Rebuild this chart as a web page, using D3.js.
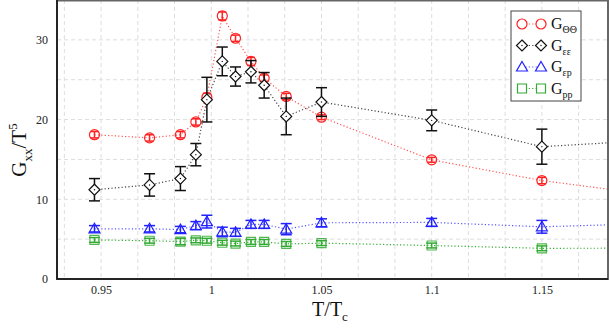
<!DOCTYPE html>
<html>
<head>
<meta charset="utf-8">
<script src="https://cdn.jsdelivr.net/npm/d3@7"></script>
<style>
  body { margin: 0; background: #fff; }
  svg text { font-family: "Liberation Serif", "DejaVu Serif", serif !important; }
</style>
</head>
<body>
<svg id="chart" width="610" height="323"></svg>
<script>
// 温度 T/Tc
const temps = [0.947, 0.972, 0.986, 0.993, 0.998, 1.005, 1.011, 1.018, 1.024, 1.034, 1.050, 1.100, 1.150, 1.200];

// 各相関関数の値と誤差
const gThetaTheta = [18.1, 17.7, 18.1, 19.7, 22.8, 33.0, 30.2, 27.3, 25.2, 22.9, 20.3, 14.95, 12.35, 10.55];
const gThetaThetaErr = [0.4, 0.4, 0.4, 0.4, 0.5, 0.5, 0.4, 0.5, 0.4, 0.4, 0.3, 0.3, 0.4, 0.4];
const gEpsEps = [11.2, 11.8, 12.6, 15.6, 22.5, 27.3, 25.4, 26.0, 24.3, 20.4, 22.2, 19.9, 16.6, 17.4];
const gEpsEpsErr = [1.4, 1.4, 1.5, 1.4, 2.8, 1.8, 1.2, 1.4, 1.6, 2.3, 1.8, 1.3, 2.2, 2.0];
const gEpsP = [6.3, 6.3, 6.2, 6.7, 7.2, 5.9, 5.85, 6.85, 6.85, 6.25, 7.05, 7.1, 6.55, 6.95];
const gEpsPErr = [0.4, 0.4, 0.4, 0.5, 0.8, 0.6, 0.5, 0.5, 0.5, 0.7, 0.5, 0.5, 0.8, 0.6];
const gPP = [4.9, 4.8, 4.7, 4.85, 4.8, 4.55, 4.45, 4.65, 4.65, 4.4, 4.5, 4.2, 3.85, 3.87];
const gPPErr = [0.3, 0.3, 0.4, 0.3, 0.3, 0.3, 0.3, 0.3, 0.3, 0.3, 0.3, 0.3, 0.3, 0.3];

const xTicks = [0.95, 1, 1.05, 1.1, 1.15];
const yTicks = [0, 10, 20, 30];

const series = [
  { name: "ΘΘ", values: gThetaTheta, errs: gThetaThetaErr, color: "#f22", line: "#f55", shape: "circle" },
  { name: "εε", values: gEpsEps, errs: gEpsEpsErr, color: "#111", line: "#444", shape: "diamond" },
  { name: "εp", values: gEpsP, errs: gEpsPErr, color: "#22f", line: "#55f", shape: "triangle" },
  { name: "pp", values: gPP, errs: gPPErr, color: "#3a3", line: "#3a3", shape: "square" },
];

const SERIF = '"Liberation Serif", "DejaVu Serif", serif';
const svg = d3.select("#chart");
const plot = { left: 57, right: 608, top: 0, bottom: 279 };

const x = d3.scaleLinear().domain([0.93, 1.18]).range([plot.left, plot.right]);
const y = d3.scaleLinear().domain([0, 35]).range([plot.bottom, plot.top]);

svg.append("defs").append("clipPath").attr("id", "clip")
  .append("rect")
  .attr("x", plot.left).attr("y", plot.top)
  .attr("width", plot.right - plot.left).attr("height", plot.bottom - plot.top);

// グリッド
const gGrid = svg.append("g");
const vGrid = d3.range(56, 71).map((k) => k / 60);
gGrid.selectAll("line.v").data(vGrid).join("line")
  .attr("x1", (d) => x(d)).attr("x2", (d) => x(d))
  .attr("y1", plot.top).attr("y2", plot.bottom)
  .attr("stroke", "#ddd").attr("stroke-dasharray", "4,3");
gGrid.selectAll("line.h").data(d3.range(5, 35, 5)).join("line")
  .attr("x1", plot.left).attr("x2", plot.right)
  .attr("y1", (d) => y(d)).attr("y2", (d) => y(d))
  .attr("stroke", "#ddd").attr("stroke-dasharray", "4,3");

// 軸
const xAxis = d3.axisBottom(x).tickValues(xTicks).tickSize(0).tickPadding(6)
  .tickFormat((d) => String(+d.toFixed(2)));
svg.append("g").attr("transform", `translate(0,${plot.bottom})`).call(xAxis)
  .attr("font-family", SERIF).attr("font-size", 12)
  .call((g) => g.select(".domain").remove())
  .call((g) => g.selectAll("text").attr("fill", "#222"));

const yAxis = d3.axisLeft(y).tickValues(yTicks).tickSize(0).tickPadding(9);
svg.append("g").attr("transform", `translate(${plot.left},0)`).call(yAxis)
  .attr("font-family", SERIF).attr("font-size", 12)
  .call((g) => g.select(".domain").remove())
  .call((g) => g.selectAll("text").attr("fill", "#222"));

// マーカー形状
function shapePath(shape) {
  switch (shape) {
    case "circle": return "M5,0A5,5 0 1,1 -5,0A5,5 0 1,1 5,0Z";
    case "diamond": return "M0,-5.5L5.5,0L0,5.5L-5.5,0Z";
    case "triangle": return "M0,-5.5L5.5,4L-5.5,4Z";
    case "square": return "M-4.5,-4.5H4.5V4.5H-4.5Z";
  }
}

const line = d3.line().x((d) => x(d.t)).y((d) => y(d.v));
const gData = svg.append("g").attr("clip-path", "url(#clip)");

series.forEach((s) => {
  const pts = temps.map((t, i) => ({ t, v: s.values[i], e: s.errs[i] }));
  gData.append("path").datum(pts).attr("d", line)
    .attr("fill", "none").attr("stroke", s.line).attr("stroke-width", 1.2)
    .attr("stroke-dasharray", "1.2,2.2");

  const g = gData.append("g").selectAll("g").data(pts).join("g")
    .attr("transform", (d) => `translate(${x(d.t)},0)`);
  const cap = s.shape === "circle" ? 4 : 5.5;
  g.append("line").attr("y1", (d) => y(d.v + d.e)).attr("y2", (d) => y(d.v - d.e))
    .attr("stroke", s.color).attr("stroke-width", 1.5);
  g.append("line").attr("x1", -cap).attr("x2", cap)
    .attr("y1", (d) => y(d.v + d.e)).attr("y2", (d) => y(d.v + d.e))
    .attr("stroke", s.color).attr("stroke-width", 1.5);
  g.append("line").attr("x1", -cap).attr("x2", cap)
    .attr("y1", (d) => y(d.v - d.e)).attr("y2", (d) => y(d.v - d.e))
    .attr("stroke", s.color).attr("stroke-width", 1.5);
  g.append("path").attr("d", shapePath(s.shape))
    .attr("transform", (d) => `translate(0,${y(d.v)})`)
    .attr("fill", s.shape === "diamond" ? "#fff" : "none")
    .attr("stroke", s.color).attr("stroke-width", 1.2)
    .attr("stroke-opacity", s.shape === "square" ? 0.85 : 1);
  if (s.shape === "diamond") {
    g.append("circle").attr("cy", (d) => y(d.v)).attr("r", 0.7).attr("fill", s.color);
  }
});

// 枠線
svg.append("rect")
  .attr("x", plot.left).attr("y", plot.top + 0.5)
  .attr("width", plot.right - plot.left).attr("height", plot.bottom - plot.top - 0.5)
  .attr("fill", "none").attr("stroke", "#666").attr("stroke-width", 2);
svg.append("path")
  .attr("d", `M${plot.left},${plot.top}V${plot.bottom}H${plot.right}`)
  .attr("fill", "none").attr("stroke", "#111").attr("stroke-width", 1.5);

// 凡例
const legend = svg.append("g").attr("transform", "translate(511,11)");
legend.append("rect").attr("width", 70).attr("height", 90)
  .attr("fill", "#fff").attr("stroke", "#444").attr("stroke-width", 1);
series.forEach((s, i) => {
  const row = legend.append("g").attr("transform", `translate(0,${13 + i * 21.5})`);
  row.append("line").attr("x1", 11).attr("x2", 30)
    .attr("stroke", s.line).attr("stroke-width", 1.2).attr("stroke-dasharray", "1.2,2.2");
  [11, 30].forEach((cx) => {
    row.append("path").attr("d", shapePath(s.shape))
      .attr("transform", `translate(${cx},0)`)
      .attr("fill", "#fff").attr("stroke", s.color).attr("stroke-width", 1.2);
    if (s.shape === "diamond") row.append("circle").attr("cx", cx).attr("r", 0.7).attr("fill", s.color);
  });
  const txt = row.append("text").attr("x", 40).attr("y", 5).attr("font-size", 16).attr("fill", "#111");
  txt.append("tspan").text("G");
  txt.append("tspan").attr("font-size", 10).attr("dy", 4).text(s.name);
});

// 軸ラベル
const xl = svg.append("text").attr("x", 330).attr("y", 316)
  .attr("text-anchor", "middle").attr("font-size", 20).attr("fill", "#111");
xl.append("tspan").text("T/T");
xl.append("tspan").attr("font-size", 13).attr("dy", 5).text("c");

const yl = svg.append("text").attr("transform", "translate(26,150) rotate(-90)")
  .attr("text-anchor", "middle").attr("font-size", 21).attr("fill", "#111");
yl.append("tspan").text("G");
yl.append("tspan").attr("font-size", 13).attr("dy", 6).text("xx");
yl.append("tspan").attr("dy", -6).text("/T");
yl.append("tspan").attr("font-size", 13).attr("dy", -9).text("5");
</script>
</body>
</html>
